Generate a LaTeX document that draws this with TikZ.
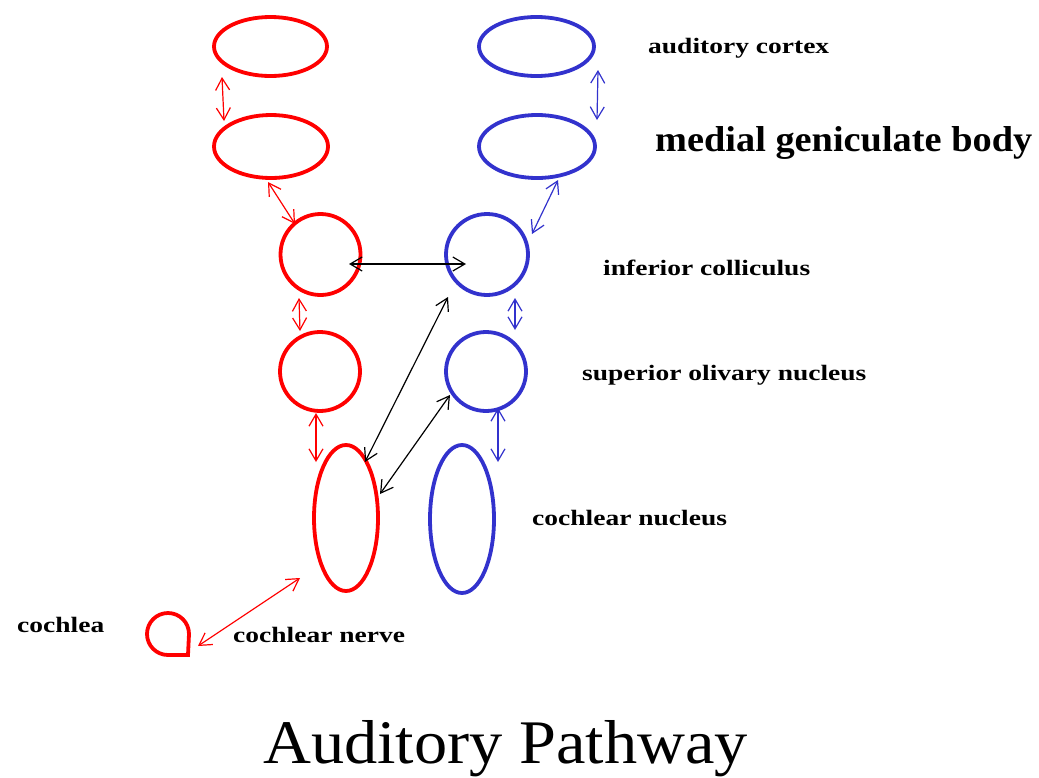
\documentclass[tikz,border=0pt]{standalone}
\usepackage{fontspec}
\usepackage{graphicx}
\setmainfont{Liberation Serif}
\usetikzlibrary{shapes.geometric,arrows.meta}
\definecolor{nred}{RGB}{255,0,0}
\definecolor{nblue}{RGB}{50,50,205}
\tikzset{
  nucleus/.style={ellipse, draw, line width=3.8pt, inner sep=0pt},
  rnuc/.style={nucleus, draw=nred},
  bnuc/.style={nucleus, draw=nblue},
  link/.style={line width=1.2pt, {Straight Barb[length=12pt,width=14pt]}-{Straight Barb[length=12pt,width=14pt]}},
  rlink/.style={link, draw=nred},
  blink/.style={link, draw=nblue},
  klink/.style={link, draw=black},
  lab/.style={anchor=base west, inner sep=0pt, font=\fontsize{22}{24}\selectfont\bfseries},
  biglab/.style={anchor=base west, inner sep=0pt, font=\fontsize{36}{40}\selectfont\bfseries},
  titlelab/.style={anchor=base west, inner sep=0pt, font=\fontsize{62}{68}\selectfont}
}
\begin{document}
\begin{tikzpicture}[x=1pt,y=-1pt]
\useasboundingbox[fill=white] (0,0) rectangle (1039,777);
% red column
\node[rnuc, minimum width=113pt, minimum height=59pt] (rAC) at (270.5,46.5) {};
\node[rnuc, minimum width=114pt, minimum height=63pt] (rMGB) at (271,146.5) {};
\node[rnuc, minimum width=80pt, minimum height=81pt] (rIC) at (320.5,254.5) {};
\node[rnuc, minimum width=80pt, minimum height=79pt] (rSON) at (320,371.5) {};
\node[rnuc, minimum width=64pt, minimum height=146pt] (rCN) at (346,518) {};
% blue column
\node[bnuc, minimum width=115pt, minimum height=59pt] (bAC) at (536.5,46.5) {};
\node[bnuc, minimum width=116pt, minimum height=63pt] (bMGB) at (537,146.5) {};
\node[bnuc, minimum width=82pt, minimum height=81pt] (bIC) at (487,254.5) {};
\node[bnuc, minimum width=80pt, minimum height=79pt] (bSON) at (486,371.5) {};
\node[bnuc, minimum width=64pt, minimum height=148pt] (bCN) at (462,519) {};
% cochlea
\coordinate (coch) at (168,633);
\draw[nred, line width=3.8pt, line join=miter] (189,634) arc[start angle=0, end angle=-270, radius=21] -- (188,655) -- cycle;
% red connectors
\draw[rlink] ([shift={(-48.5,30.5)}]rAC.center) -- ([shift={(-47,-25.5)}]rMGB.center);
\draw[rlink] ([shift={(-3,35.5)}]rMGB.center) -- ([shift={(-25.5,-30.5)}]rIC.center);
\draw[rlink] ([shift={(-21.5,43.5)}]rIC.center) -- ([shift={(-20,-40.5)}]rSON.center);
\draw[rlink] ([shift={(-4,41.5)}]rSON.center) -- ([shift={(-30,-56)}]rCN.center);
\draw[rlink] ([shift={(30,13)}]coch) -- ([shift={(-46,60)}]rCN.center);
% blue connectors
\draw[blink] ([shift={(61.5,23.5)}]bAC.center) -- ([shift={(60,-26.5)}]bMGB.center);
\draw[blink] ([shift={(21,33.5)}]bMGB.center) -- ([shift={(45,-20.5)}]bIC.center);
\draw[blink] ([shift={(28,43.5)}]bIC.center) -- ([shift={(29,-41.5)}]bSON.center);
\draw[blink] ([shift={(12,36.5)}]bSON.center) -- ([shift={(36,-57)}]bCN.center);
% black connectors
\draw[klink] ([shift={(28.5,9.5)}]rIC.center) -- ([shift={(-21,9.5)}]bIC.center);
\draw[klink] ([shift={(-39,42.5)}]bIC.center) -- ([shift={(19,-56)}]rCN.center);
\draw[klink] ([shift={(-36,23.5)}]bSON.center) -- ([shift={(34,-24)}]rCN.center);
% labels
\node[lab] (tAC) at (648,53) {\scalebox{1.25}[1]{auditory cortex}};
\node[biglab] (tMGB) at (655,151) {\scalebox{1.065}[1]{medial geniculate body}};
\node[lab] (tIC) at (603,275) {\scalebox{1.25}[1]{inferior colliculus}};
\node[lab] (tSON) at (582,380) {\scalebox{1.25}[1]{superior olivary nucleus}};
\node[lab] (tCN) at (532,525) {\scalebox{1.25}[1]{cochlear nucleus}};
\node[lab] (tcoch) at (17,632) {\scalebox{1.25}[1]{cochlea}};
\node[lab] (tnerve) at (233,642) {\scalebox{1.25}[1]{cochlear nerve}};
\node[titlelab] (title) at (263,763) {\scalebox{1.07}[1]{Auditory Pathway}};
\end{tikzpicture}
\end{document}
